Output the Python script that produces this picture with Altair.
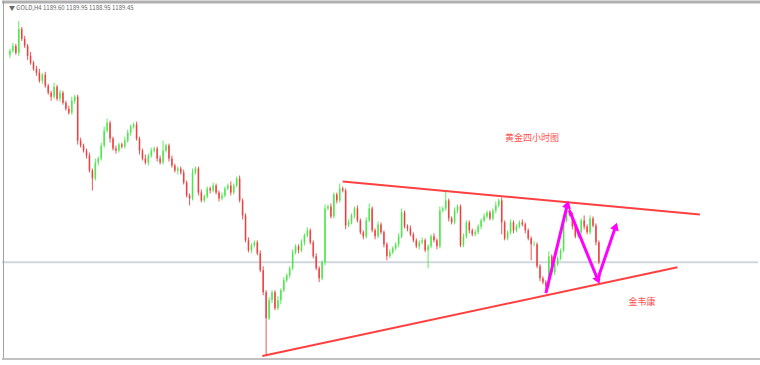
import altair as alt
import pandas as pd

# ---------------- data ----------------
first_open = 1293.0
closes = [
    1295, 1297.5, 1294, 1306, 1301, 1297.5, 1292.5, 1289, 1286, 1284,
    1280, 1283, 1277.5, 1274, 1272, 1277, 1271, 1274, 1269, 1266,
    1264, 1270, 1272, 1250, 1247.5, 1245, 1242.5, 1235, 1231, 1239,
    1241, 1247.5, 1255, 1259, 1251, 1246, 1245, 1248, 1247, 1250,
    1254, 1257, 1258, 1251, 1245, 1241, 1239, 1242.5, 1245, 1246,
    1241, 1239, 1245, 1247.5, 1241, 1237.5, 1235, 1236, 1234, 1229,
    1222.5, 1221, 1234, 1236, 1224, 1220, 1222, 1226, 1225, 1227.5,
    1224, 1221, 1222.5, 1226, 1227.5, 1224, 1227.5, 1231, 1220, 1212.5,
    1200, 1195, 1197.5, 1199, 1193.5, 1185, 1174, 1161, 1170, 1174,
    1166, 1170, 1175, 1180, 1182.5, 1186, 1194, 1197, 1195, 1199,
    1202.5, 1205, 1199, 1192, 1186, 1181, 1189, 1216, 1217, 1212,
    1223, 1220, 1226, 1225, 1207.5, 1209, 1212.5, 1216, 1210, 1204,
    1202, 1210, 1216, 1205, 1202, 1208, 1204, 1198, 1192, 1194,
    1196, 1198, 1202, 1214, 1207, 1206, 1203, 1200, 1197, 1199,
    1200, 1195, 1197, 1202, 1200, 1197, 1215, 1216, 1220, 1211,
    1209, 1215, 1217, 1197.5, 1202, 1209, 1205, 1203, 1204, 1207,
    1210, 1212, 1214, 1211, 1215, 1217.5, 1220, 1209, 1201, 1204,
    1209, 1205, 1207, 1209, 1208, 1205, 1201, 1198, 1198, 1187,
    1181, 1179, 1177, 1192, 1184, 1188, 1191, 1195, 1210, 1217,
    1213, 1207, 1202, 1204, 1210, 1207, 1204, 1211, 1207.5, 1199,
    1189,
]
upper_wick = [
    1, 1.5, 1, 4, 1, 1.5, 1, 2, 1, 1.5,
    2, 1, 1.5, 1, 1, 2, 1, 1.5, 1, 1,
    1.5, 2, 1, 1, 1.5, 1, 1, 1.5, 1, 2,
    1, 1.5, 2, 2, 1, 1, 1.5, 1, 1, 2,
    1.5, 1, 1, 1.5, 1, 1, 2, 1, 1.5, 1,
    1, 1.5, 5, 1, 1, 1.5, 1, 1, 1, 1.5,
    1, 1, 2, 1, 1, 1.5, 1, 1, 1, 1.5,
    1, 1, 1.5, 1, 1, 2, 1, 1, 1.5, 1,
    1, 1.5, 1, 1, 1, 1.5, 2, 1, 1.5, 1,
    1, 2, 1, 1.5, 1, 1, 1.5, 1, 1, 1.5,
    1, 1.5, 1, 1, 1.5, 1, 1, 2, 1, 1.5,
    1, 1, 2.5, 1, 1, 1.5, 1, 1, 1.5, 1,
    1, 1.5, 2.5, 1, 1, 1.5, 1, 1, 1, 1.5,
    1, 1, 1.5, 2, 1, 1, 1.5, 1, 1, 1,
    1.5, 1, 1, 1, 1.5, 1, 2, 1, 5, 1,
    1, 1.5, 1, 1, 1.5, 1, 1, 1, 1.5, 1,
    1, 1.5, 1, 1, 1, 2, 1, 1.5, 1, 1,
    1.5, 1, 1, 1, 1.5, 1, 1, 1, 1.5, 1,
    1, 1, 1, 2.5, 1, 1.5, 1, 1, 1, 1.5,
    1, 1, 1.5, 1, 1, 2.5, 1, 1.5, 1, 1,
    1,
]
lower_wick = [
    1.5, 1, 1, 1.5, 1, 1, 2, 1, 1, 1.5,
    1, 1.5, 1, 1, 2, 1, 1, 1.5, 1, 1,
    1, 1, 1.5, 2, 1, 1, 1.5, 1, 6, 1,
    1.5, 1, 1, 1, 2, 1, 1.5, 1, 1, 1,
    1, 1.5, 1, 1, 2, 1, 1, 1.5, 1, 1,
    1.5, 1, 1, 1, 1.5, 1, 1, 2, 1, 1,
    1, 3.5, 1, 1, 1.5, 1, 1, 1, 1.5, 1,
    1, 1.5, 1, 1, 1, 1.5, 1, 1, 1, 2,
    1, 1, 1.5, 1, 1, 1, 1.5, 18.5, 1, 1.5,
    1, 1, 2, 1, 1, 1.5, 1, 1, 1.5, 1,
    1.5, 1, 1, 1, 1, 2, 1, 1.5, 1, 1,
    1, 1.5, 1, 1, 2, 1, 1, 1.5, 1, 1,
    1.5, 1, 1, 1, 1.5, 1, 1, 1.5, 2, 1,
    1, 1, 1.5, 1, 1, 1.5, 1, 1, 1, 1.5,
    1, 1, 9, 1, 1, 1.5, 1, 1, 1, 1.5,
    1, 1, 1.5, 1, 1, 1, 1.5, 1, 1, 1,
    1.5, 1, 1, 1, 1, 1.5, 1, 6, 1, 1,
    1, 1.5, 1, 1, 1, 1.5, 1, 8, 1, 1,
    1.5, 1, 1.5, 1, 1, 1.5, 1, 1, 1, 1,
    1, 1.5, 1, 1, 1, 1.5, 1, 1, 1, 1.5,
    1,
]

# trend lines (bar index, price)
upper_line_bar = [113, 234.3]
upper_line_price = [1229.5, 1213]
lower_line_bar = [85.7, 226.7]
lower_line_price = [1142, 1186.5]

# magenta arrows: start bar, start price, end bar, end price, head angle
arrow_x0 = [182, 190, 199.7]
arrow_y0 = [1173.5, 1215, 1181]
arrow_x1 = [189.3, 199.7, 205.7]
arrow_y1 = [1218, 1180, 1207]
arrow_angle = [14, 157, 19]

current_price = 1189
header = "\u25bc GOLD,H4  1189.60 1189.95 1188.95 1189.45"
title_cn = "黄金四小时图"
author_cn = "金韦康"

# ---------------- tables ----------------
opens = [first_open] + closes[:-1]
rows = []
for i, (o, c, u, l) in enumerate(zip(opens, closes, upper_wick, lower_wick)):
    rows.append(dict(i=i, open=o, close=c,
                     high=max(o, c) + u, low=min(o, c) - l,
                     dir="up" if c >= o else "down"))
candles = pd.DataFrame(rows)

lines = pd.DataFrame(
    [dict(i=x, p=y, g="upper") for x, y in zip(upper_line_bar, upper_line_price)]
    + [dict(i=x, p=y, g="lower") for x, y in zip(lower_line_bar, lower_line_price)]
)
arrow_rows = []
for k in range(len(arrow_x0)):
    arrow_rows.append(dict(i=arrow_x0[k], p=arrow_y0[k], g=k, o=0))
    arrow_rows.append(dict(i=arrow_x1[k], p=arrow_y1[k], g=k, o=1))
arrows = pd.DataFrame(arrow_rows)
heads = pd.DataFrame(dict(i=arrow_x1, p=arrow_y1, a=arrow_angle))

xs = alt.Scale(domain=[-1, 252.333], nice=False, zero=False)
ys = alt.Scale(domain=[1137.5, 1320], nice=False, zero=False)
X = lambda f: alt.X(f, type="quantitative", scale=xs, axis=None)
Y = lambda f: alt.Y(f, type="quantitative", scale=ys, axis=None)
col = alt.Color("dir:N", scale=alt.Scale(domain=["up", "down"],
                                         range=["#44e644", "#ec3a3a"]), legend=None)

hline = alt.Chart(pd.DataFrame(dict(p=[current_price]))).mark_rule(
    color="#cfd6dd", strokeWidth=2).encode(y=Y("p"))

wicks = alt.Chart(candles).mark_rule(strokeWidth=1, opacity=0.85).encode(
    x=X("i"), y=Y("low"), y2="high", color=col)
bodies = alt.Chart(candles).mark_bar(size=1.6, opacity=0.85).encode(
    x=X("i"), y=Y("open"), y2="close", color=col)

trend = alt.Chart(lines).mark_line(color="#ff4040", strokeWidth=2).encode(
    x=X("i"), y=Y("p"), detail="g:N")

arr = alt.Chart(arrows).mark_line(color="#ff00ff", strokeWidth=3).encode(
    x=X("i"), y=Y("p"), detail="g:N", order="o:Q")
arrh = alt.Chart(heads).mark_point(shape="triangle-up", filled=True, size=80,
                                   color="#ff00ff", opacity=1).encode(
    x=X("i"), y=Y("p"), angle=alt.Angle("a:Q", scale=None))

def txt(s, x, y, size, color, align="left"):
    return alt.Chart(pd.DataFrame(dict(t=[s]))).mark_text(
        align=align, baseline="middle", fontSize=size, color=color,
        font="Noto Sans CJK SC").encode(
        text="t:N", x=alt.value(x), y=alt.value(y))

t_head = txt(header, 7, 7, 6, "#666666")
t_title = txt(title_cn, 530, 137, 9, "#ff5050", "center")
t_author = txt(author_cn, 640, 301, 9, "#ff5050", "center")

frame_top = alt.Chart(pd.DataFrame(dict(v=[0]))).mark_rule(
    color="#b0b0b0", strokeWidth=3).encode(
    x=alt.value(0), x2=alt.value(760), y=alt.value(1))
frame_left = alt.Chart(pd.DataFrame(dict(v=[0]))).mark_rule(
    color="#a0a0a0", strokeWidth=1).encode(
    x=alt.value(1.5), y=alt.value(0), y2=alt.value(358))
frame_right = alt.Chart(pd.DataFrame(dict(v=[0]))).mark_rule(
    color="#c0c0c0", strokeWidth=1).encode(
    x=alt.value(758.5), y=alt.value(0), y2=alt.value(358))
frame_bottom = alt.Chart(pd.DataFrame(dict(v=[0]))).mark_rule(
    color="#c0c0c0", strokeWidth=2).encode(
    x=alt.value(0), x2=alt.value(760), y=alt.value(358))

chart = alt.layer(
    hline, wicks, bodies, trend, arr, arrh, t_head, t_title, t_author,
    frame_top, frame_left, frame_right, frame_bottom
).properties(
    width=760, height=365, padding=0,
    autosize=alt.AutoSizeParams(type="fit", contains="padding"),
    background="white",
).configure_view(stroke=None)

chart.save("out.html", embed_options={"renderer": "svg", "actions": False})
